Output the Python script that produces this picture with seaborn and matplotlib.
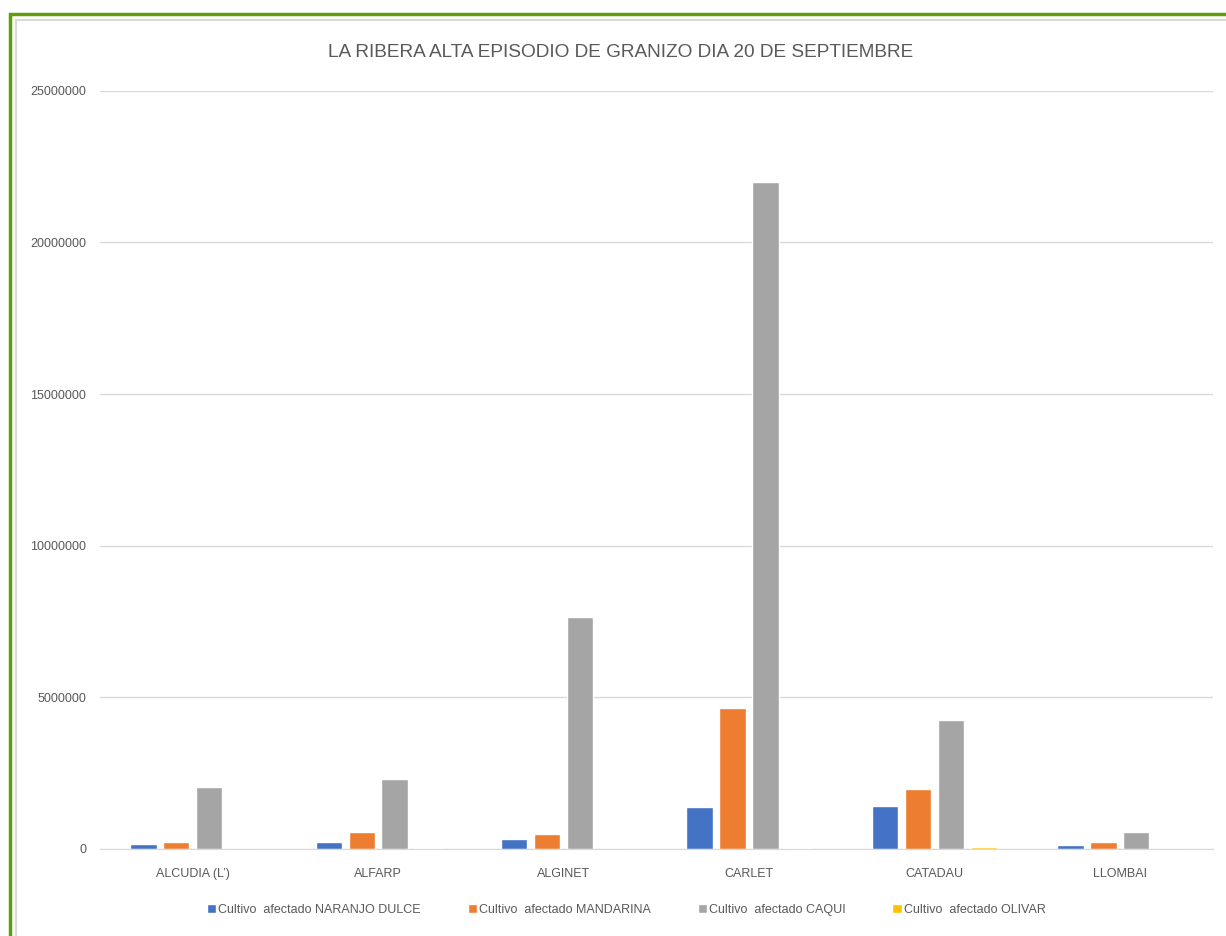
import pandas as pd
import matplotlib.pyplot as plt
import seaborn as sns
from matplotlib.patches import Rectangle

# datos
municipios = ["ALCUDIA (L’)", "ALFARP", "ALGINET", "CARLET", "CATADAU", "LLOMBAI"]
naranjo = [160000, 230000, 330000, 1380000, 1420000, 130000]
mandarina = [220000, 550000, 495000, 4650000, 1980000, 230000]
caqui = [2040000, 2310000, 7650000, 22000000, 4250000, 560000]
olivar = [5000, 20000, 5000, 15000, 60000, 10000]

series = ["Cultivo  afectado NARANJO DULCE", "Cultivo  afectado MANDARINA",
          "Cultivo  afectado CAQUI", "Cultivo  afectado OLIVAR"]
colores = ["#4472C4", "#ED7D31", "#A5A5A5", "#FFC000"]

rows = []
for s, vals in zip(series, [naranjo, mandarina, caqui, olivar]):
    for m, v in zip(municipios, vals):
        rows.append({"Municipio": m, "Serie": s, "Valor": v})
df = pd.DataFrame(rows)

sns.set_style("white")
plt.rcParams['font.family'] = ['Liberation Sans', 'DejaVu Sans']

fig = plt.figure(figsize=(12.26, 9.36), dpi=100)
ax = fig.add_axes([0.0816, 0.093, 0.9074, 0.81])

sns.barplot(data=df, x="Municipio", y="Valor", hue="Serie", palette=colores,
            saturation=1, width=0.71, gap=0.2, ax=ax, legend=True)

ax.set_ylim(0, 25000000)
ax.set_yticks(range(0, 25000001, 5000000))
ax.set_yticklabels([str(v) for v in range(0, 25000001, 5000000)])
ax.yaxis.grid(True, color="#D9D9D9", linewidth=1)
ax.set_axisbelow(True)
for side in ["top", "right", "left"]:
    ax.spines[side].set_visible(False)
ax.spines["bottom"].set_color("#D9D9D9")
ax.tick_params(axis="y", length=0, labelsize=9, colors="#595959", pad=10)
ax.tick_params(axis="x", length=0, labelsize=9, colors="#595959", pad=14)
ax.set_xlabel("")
ax.set_ylabel("")
ax.set_xlim(-0.5, 5.5)

fig.text(0.506, 0.944, "LA RIBERA ALTA EPISODIO DE GRANIZO DIA 20 DE SEPTIEMBRE",
         ha="center", va="center", fontsize=13.7, color="#595959")

ax.legend(loc="center", bbox_to_anchor=(0.473, -0.08), ncol=4, frameon=False,
          fontsize=9, labelcolor="#595959", handlelength=0.75, handleheight=0.75,
          handletextpad=0.15, columnspacing=3.75)

# marco
fig.patches.append(Rectangle((0.008, -0.1), 1.1, 1.085, transform=fig.transFigure,
                             fill=False, edgecolor="#5E9E0C", linewidth=2.5))
fig.patches.append(Rectangle((0.013, -0.1), 1.1, 1.079, transform=fig.transFigure,
                             fill=False, edgecolor="#D9D9D9", linewidth=1.5))

fig.savefig("out.png", dpi=100)
